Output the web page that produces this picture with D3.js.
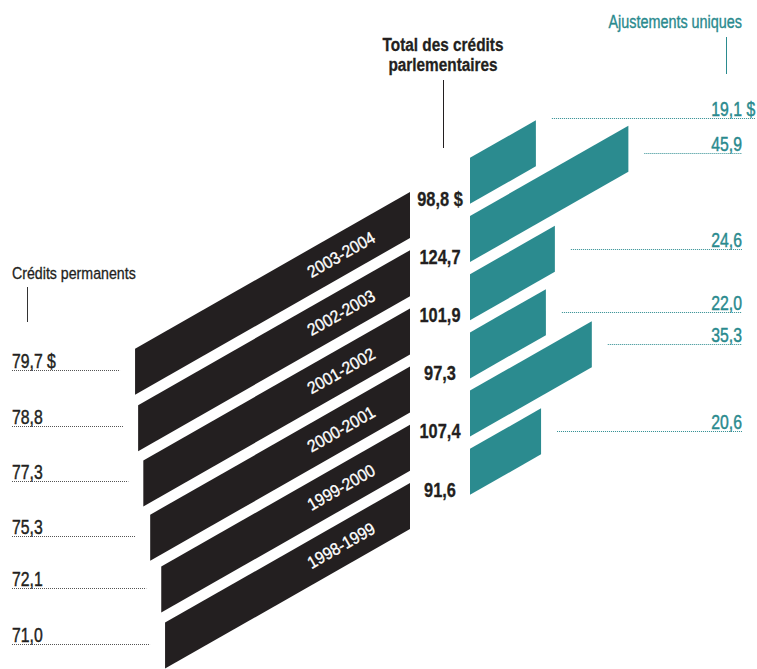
<!DOCTYPE html>
<html>
<head>
<meta charset="utf-8">
<script src="https://cdn.jsdelivr.net/npm/d3@7"></script>
<style>
  html, body { margin: 0; padding: 0; background: #fff; }
  svg { display: block; }
  text { font-family: "Liberation Sans", Arial, sans-serif; }
</style>
</head>
<body>
<svg id="chart" width="757" height="669"></svg>
<script>
// ---- data ----
const years = ["2003-2004", "2002-2003", "2001-2002", "2000-2001", "1999-2000", "1998-1999"];
const permanents = [79.7, 78.8, 77.3, 75.3, 72.1, 71.0];
const ajustements = [19.1, 45.9, 24.6, 22.0, 35.3, 20.6];
const totals = [98.8, 124.7, 101.9, 97.3, 107.4, 91.6];
const titles = {
  permanents: "Crédits permanents",
  total: ["Total des crédits", "parlementaires"],
  ajustements: "Ajustements uniques"
};
const currency = " $";

// ---- layout ----
const BLACK = "#231f20", TEAL = "#2b8b8f", TEAL_TXT = "#2a8a8e";
const svg = d3.select("#chart");
const xBlackEnd = 410, xTealStart = 470;
const slope = 0.57, thick = 46;
const len = d3.scaleLinear().domain([0, 100]).range([0, 345]);
const yTop = d3.scalePoint().domain(years).range([192, 483]);
const fmt = d3.formatLocale({decimal: ",", thousands: " ", grouping: [3], currency: ["", " $"]}).format(".1f");

const rows = years.map((y, i) => ({year: y, p: permanents[i], a: ajustements[i], t: totals[i], i}));

// condensed text helper
function txt(g, x, y, s, o) {
  o = o || {};
  const sx = o.sx || 0.8;
  const rot = o.rot ? ` rotate(${o.rot})` : "";
  const fill = o.fill || BLACK;
  const t = g.append("text")
    .attr("transform", `translate(${x},${y})${rot} scale(${sx},1)`)
    .attr("text-anchor", o.anchor || "start")
    .attr("font-size", o.size || 20)
    .attr("font-weight", o.weight || "normal")
    .attr("fill", fill)
    .style("white-space", "pre")
    .text(s);
  if (o.stroke) t.attr("stroke", fill).attr("stroke-width", o.stroke);
  if (o.dy) t.attr("dy", o.dy);
  return t;
}
const crisp = v => Math.round(v) + 0.5;

// black bars (Crédits permanents)
svg.append("g").selectAll("path").data(rows).join("path")
  .attr("fill", BLACK)
  .attr("d", d => {
    const yt = yTop(d.year), L = len(d.p);
    const xl = xBlackEnd - L;
    return `M${xBlackEnd},${yt} L${xBlackEnd},${yt + thick} L${xl},${yt + thick + slope * L} L${xl},${yt + slope * L} Z`;
  });

// teal bars (Ajustements uniques)
svg.append("g").selectAll("path").data(rows).join("path")
  .attr("fill", TEAL)
  .attr("d", d => {
    const yl = yTop(d.year) - slope * (xTealStart - xBlackEnd), W = len(d.a);
    const xr = xTealStart + W;
    return `M${xTealStart},${yl} L${xTealStart},${yl + thick} L${xr},${yl + thick - slope * W} L${xr},${yl - slope * W} Z`;
  });

// year labels inside black bars
const ang = -Math.atan(slope) * 180 / Math.PI;
const yearOffset = 69;
const gy = svg.append("g");
rows.forEach(d => {
  const x = xBlackEnd - yearOffset;
  const y = yTop(d.year) + slope * yearOffset + thick / 2;
  txt(gy, x, y, d.year, {rot: ang, anchor: "middle", size: 17, sx: 0.92, fill: "#fff", dy: "0.36em", stroke: 0.35});
});

// totals
const gt = svg.append("g");
rows.forEach(d => {
  txt(gt, (xBlackEnd + xTealStart) / 2, yTop(d.year) + 13.5, fmt(d.t) + (d.i === 0 ? currency : ""),
    {anchor: "middle", size: 20.5, weight: "bold", sx: 0.8, stroke: 0.3});
});

// left labels (permanents)
const gl = svg.append("g");
rows.forEach(d => {
  const L = len(d.p);
  const yMid = crisp(yTop(d.year) + slope * L + thick / 2 - 2);
  gl.append("line")
    .attr("x1", 12).attr("x2", xBlackEnd - L - 15)
    .attr("y1", yMid).attr("y2", yMid)
    .attr("stroke", "#555").attr("stroke-width", 1).attr("stroke-dasharray", "1,1");
  txt(gl, 12, yMid - 3, fmt(d.p) + (d.i === 0 ? currency : ""), {size: 20.5, sx: 0.77, stroke: 0.45});
});

// right labels (ajustements)
const nudge = {0: -25, 1: 4};
const gr = svg.append("g");
rows.forEach(d => {
  const W = len(d.a);
  const yl = yTop(d.year) - slope * (xTealStart - xBlackEnd);
  const yMid = crisp(yl - slope * W + thick / 2 + (nudge[d.i] || 0));
  const xEnd = d.i === 0 ? 755 : 742;
  gr.append("line")
    .attr("x1", xTealStart + W + 16).attr("x2", xEnd)
    .attr("y1", yMid).attr("y2", yMid)
    .attr("stroke", TEAL).attr("stroke-width", 1).attr("stroke-dasharray", "1,1");
  txt(gr, 742, yMid - 3, fmt(d.a), {anchor: "end", size: 20.5, sx: 0.77, fill: TEAL_TXT, stroke: 0.45});
  if (d.i === 0) {
    txt(gr, 742, yMid - 3, currency, {size: 20.5, sx: 0.77, fill: TEAL_TXT, stroke: 0.45});
  }
});

// headers
txt(svg, 12, 278.5, titles.permanents, {size: 16.5, sx: 0.86, stroke: 0.3});
svg.append("line").attr("x1", 27.5).attr("x2", 27.5).attr("y1", 287).attr("y2", 322)
  .attr("stroke", "#333").attr("stroke-width", 1);

txt(svg, 443, 50.5, titles.total[0], {anchor: "middle", size: 18.5, weight: "bold", sx: 0.83, stroke: 0.3});
txt(svg, 443, 70.5, titles.total[1], {anchor: "middle", size: 18.5, weight: "bold", sx: 0.83, stroke: 0.3});
svg.append("line").attr("x1", 443.5).attr("x2", 443.5).attr("y1", 80).attr("y2", 148)
  .attr("stroke", BLACK).attr("stroke-width", 1);

txt(svg, 742, 28, titles.ajustements, {anchor: "end", size: 18, sx: 0.8, fill: TEAL_TXT, stroke: 0.35});
svg.append("line").attr("x1", 726.5).attr("x2", 726.5).attr("y1", 37).attr("y2", 74)
  .attr("stroke", TEAL).attr("stroke-width", 1);
</script>
</body>
</html>
